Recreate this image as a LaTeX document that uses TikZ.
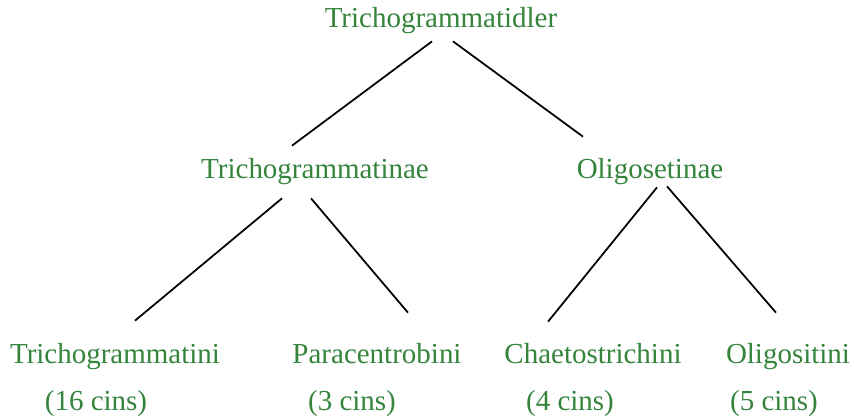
\documentclass[tikz,border=0pt]{standalone}
\usepackage{fontspec}
\setmainfont{Liberation Serif}
\definecolor{taxgreen}{RGB}{52,132,60}
\tikzset{
  taxon/.style={text=taxgreen, inner sep=0pt, anchor=base, text height=0.4cm, text depth=0.12cm, font=\fontsize{16.5pt}{20pt}\selectfont},
  branch/.style={line width=1pt}
}
\begin{document}
\begin{tikzpicture}[x=0.02cm, y=-0.02cm]
\useasboundingbox (0,0) rectangle (854,419);
\node[taxon] (top) at (441,28) {Trichogrammatidler};
\node[taxon] (tae) at (315,178) {Trichogrammatinae};
\node[taxon] (ose) at (650,178) {Oligosetinae};
\node[taxon] (tini) at (115,363) {Trichogrammatini};
\node[taxon] (para) at (377,363) {Paracentrobini};
\node[taxon] (chae) at (593,363) {Chaetostrichini};
\node[taxon] (oli) at (788,363) {Oligositini};
\foreach \name/\x/\n in {c1/96/16, c2/352/3, c3/570/4, c4/774/5}
  \node[taxon] (\name) at (\x,410) {(\n{} cins)};
% branches
\draw[branch] ([shift={(-9,7)}]top.south) -- ([shift={(-23,-12)}]tae.north);
\draw[branch] ([shift={(12,7)}]top.south) -- ([shift={(-67,-21)}]ose.north);
\draw[branch] ([shift={(-33,14)}]tae.south) -- ([shift={(20,-22)}]tini.north);
\draw[branch] ([shift={(-4,14)}]tae.south) -- ([shift={(31,-30)}]para.north);
\draw[branch] ([shift={(7,3)}]ose.south) -- ([shift={(-45,-21)}]chae.north);
\draw[branch] ([shift={(17,2)}]ose.south) -- ([shift={(-12,-30)}]oli.north);
\end{tikzpicture}
\end{document}
